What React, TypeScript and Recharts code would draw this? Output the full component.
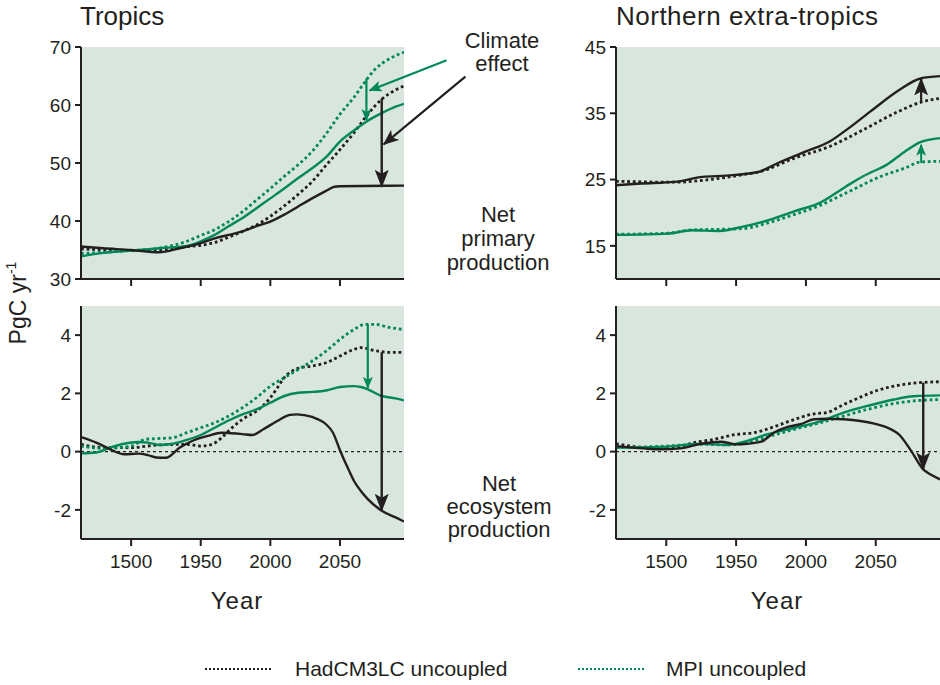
import React from 'react';
import { LineChart, Line, XAxis, YAxis, CartesianGrid, ReferenceLine } from 'recharts';

const INK = '#231f20';
const GREEN = '#00885a';
const PANEL_BG = '#d9e6dd';
const FONT = "'Liberation Sans', Arial, Helvetica, sans-serif";

// ---------- axes ----------
const yearDomain: [number, number] = [1864, 2096];
const xTickYears = [1900, 1950, 2000, 2050];
const xTickLabels = ['1500', '1950', '2000', '2050'];
const tropNppDomain: [number, number] = [30, 70];
const tropNppTicks = [30, 40, 50, 60, 70];
const nextNppDomain: [number, number] = [10, 45];
const nextNppTicks = [15, 25, 35, 45];
const nepDomain: [number, number] = [-3, 5];
const nepTicks = [-2, 0, 2, 4];

// ---------- Tropics, net primary production ----------
const tNppHadCYears = [1864, 1880, 1900, 1920, 1935, 1950, 1960, 1970, 1980, 1990, 2000, 2010, 2020, 2030, 2040, 2046, 2050, 2096];
const tNppHadC = [35.6, 35.3, 35.0, 34.6, 35.3, 36.2, 37.0, 37.6, 38.2, 39.1, 39.9, 41.1, 42.5, 43.9, 45.2, 45.9, 46.0, 46.1];
const tNppHadUYears = [1864, 1900, 1920, 1940, 1950, 1960, 1970, 1980, 1990, 2000, 2010, 2020, 2030, 2040, 2050, 2060, 2070, 2080, 2090, 2096];
const tNppHadU = [35.2, 34.9, 35.0, 35.6, 35.8, 36.3, 37.2, 38.2, 39.3, 40.8, 42.6, 44.6, 46.8, 49.6, 52.3, 55.2, 58.4, 61.0, 62.6, 63.3];
const tNppMpiCYears = [1864, 1880, 1900, 1920, 1940, 1950, 1960, 1970, 1980, 1990, 2000, 2010, 2020, 2030, 2040, 2050, 2060, 2070, 2080, 2090, 2096];
const tNppMpiC = [33.9, 34.5, 34.9, 35.3, 35.7, 36.5, 37.6, 39.1, 40.5, 42.2, 43.9, 45.6, 47.4, 49.1, 51.0, 53.7, 55.6, 57.3, 58.6, 59.7, 60.2];
const tNppMpiUYears = [1864, 1900, 1920, 1940, 1950, 1960, 1970, 1980, 1990, 2000, 2010, 2020, 2030, 2040, 2050, 2060, 2068, 2075, 2085, 2096];
const tNppMpiU = [34.4, 34.9, 35.3, 36.5, 37.5, 38.5, 39.9, 41.6, 43.6, 45.6, 47.7, 49.7, 52.0, 55.0, 58.4, 61.3, 64.0, 66.1, 67.9, 69.1];

// ---------- Tropics, net ecosystem production ----------
const tNepHadCYears = [1864, 1875, 1885, 1895, 1905, 1912, 1918, 1925, 1935, 1945, 1955, 1965, 1972, 1980, 1987, 1995, 2005, 2014, 2019, 2030, 2040, 2045, 2050, 2056, 2060, 2065, 2070, 2080, 2090, 2096];
const tNepHadC = [0.5, 0.31, 0.08, -0.09, -0.07, -0.12, -0.2, -0.21, 0.14, 0.39, 0.54, 0.65, 0.63, 0.6, 0.57, 0.77, 1.05, 1.26, 1.28, 1.19, 0.94, 0.65, 0.05, -0.6, -1.0, -1.35, -1.63, -2.03, -2.26, -2.4];
const tNepHadUYears = [1864, 1880, 1900, 1920, 1940, 1950, 1958, 1965, 1970, 1980, 1990, 2000, 2005, 2010, 2020, 2030, 2040, 2050, 2060, 2065, 2075, 2085, 2096];
const tNepHadU = [0.25, 0.14, 0.14, 0.23, 0.25, 0.19, 0.25, 0.48, 0.71, 1.11, 1.39, 1.85, 2.19, 2.54, 2.86, 2.94, 3.05, 3.28, 3.51, 3.57, 3.47, 3.41, 3.41];
const tNepMpiCYears = [1864, 1875, 1885, 1895, 1905, 1912, 1920, 1930, 1940, 1950, 1960, 1970, 1980, 1990, 2000, 2010, 2020, 2030, 2040, 2050, 2060, 2065, 2070, 2080, 2090, 2096];
const tNepMpiC = [-0.06, -0.03, 0.14, 0.27, 0.33, 0.31, 0.23, 0.27, 0.4, 0.57, 0.82, 1.07, 1.28, 1.45, 1.68, 1.91, 2.02, 2.05, 2.1, 2.22, 2.25, 2.22, 2.14, 1.91, 1.83, 1.76];
const tNepMpiUYears = [1864, 1880, 1900, 1910, 1920, 1930, 1940, 1950, 1960, 1970, 1980, 1990, 2000, 2010, 2020, 2030, 2040, 2050, 2060, 2068, 2075, 2085, 2096];
const tNepMpiU = [0.19, 0.11, 0.19, 0.42, 0.45, 0.48, 0.65, 0.82, 0.99, 1.22, 1.51, 1.85, 2.25, 2.54, 2.82, 3.11, 3.45, 3.85, 4.19, 4.37, 4.37, 4.27, 4.19];

// ---------- Northern extra-tropics, net primary production ----------
const nNppHadCYears = [1864, 1882, 1906, 1926, 1943, 1965, 1980, 2000, 2017, 2029, 2046, 2066, 2082, 2096];
const nNppHadC = [24.15, 24.4, 24.65, 25.4, 25.6, 26.1, 27.5, 29.25, 30.75, 32.5, 35.25, 38.4, 40.25, 40.6];
const nNppHadUYears = [1864, 1906, 1931, 1955, 1968, 1992, 2017, 2041, 2066, 2082, 2096];
const nNppHadU = [24.75, 24.6, 25.0, 25.75, 26.25, 28.25, 30.0, 32.5, 35.25, 36.65, 37.25];
const nNppMpiCYears = [1864, 1901, 1918, 1938, 1955, 1975, 1992, 2009, 2029, 2041, 2059, 2071, 2082, 2096];
const nNppMpiC = [16.65, 16.85, 17.35, 17.25, 17.9, 19.0, 20.25, 21.4, 24.0, 25.5, 27.4, 29.25, 30.65, 31.25];
const nNppMpiUYears = [1864, 1901, 1918, 1938, 1955, 1975, 1992, 2009, 2029, 2054, 2071, 2082, 2096];
const nNppMpiU = [16.75, 16.9, 17.4, 17.5, 17.6, 18.6, 19.75, 21.0, 23.0, 25.5, 26.75, 27.65, 27.75];

// ---------- Northern extra-tropics, net ecosystem production ----------
const nNepHadCYears = [1864, 1884, 1896, 1910, 1925, 1939, 1950, 1958, 1968, 1977, 1987, 1996, 2006, 2015, 2027, 2039, 2049, 2057, 2067, 2075, 2084, 2089, 2096];
const nNepHadC = [0.19, 0.11, 0.08, 0.11, 0.27, 0.34, 0.25, 0.27, 0.34, 0.65, 0.85, 0.94, 1.11, 1.13, 1.11, 1.05, 0.96, 0.85, 0.57, 0.05, -0.61, -0.78, -0.95];
const nNepHadUYears = [1864, 1884, 1903, 1920, 1934, 1950, 1963, 1977, 1992, 2006, 2015, 2025, 2039, 2051, 2063, 2077, 2096];
const nNepHadU = [0.27, 0.14, 0.11, 0.31, 0.42, 0.59, 0.65, 0.85, 1.11, 1.3, 1.34, 1.57, 1.87, 2.1, 2.25, 2.35, 2.4];
const nNepMpiYears = [1864, 1896, 1925, 1944, 1958, 1972, 1992, 2011, 2027, 2044, 2063, 2077, 2096];
const nNepMpiC = [0.14, 0.16, 0.27, 0.23, 0.37, 0.59, 0.82, 1.05, 1.34, 1.57, 1.79, 1.9, 1.93];
const nNepMpiU = [0.14, 0.18, 0.25, 0.23, 0.31, 0.5, 0.77, 1.0, 1.22, 1.45, 1.65, 1.74, 1.79];

// ---------- climate-effect arrows (data coordinates) ----------
const tNppArrows = [
  { x1: 2069, y1: 64.5, x2: 2069, y2: 57.4, color: GREEN, w: 2.2, head: 'headGreen' },
  { x1: 2080, y1: 61.1, x2: 2080, y2: 45.9, color: INK, w: 2.4, head: 'headBlack' },
  { x1: 2126.6, y1: 67.7, x2: 2071.3, y2: 62.5, color: GREEN, w: 2.2, head: 'headGreenP' },
  { x1: 2140.1, y1: 64.9, x2: 2081.4, y2: 53.2, color: INK, w: 2.2, head: 'headBlackP' },
];
const tNepArrows = [
  { x1: 2070, y1: 4.37, x2: 2070, y2: 2.19, color: GREEN, w: 2.2, head: 'headGreen' },
  { x1: 2080, y1: 3.41, x2: 2080, y2: -2.03, color: INK, w: 2.4, head: 'headBlack' },
];
const nNppArrows = [
  { x1: 2082.5, y1: 36.75, x2: 2082.5, y2: 40.25, color: INK, w: 2.2, head: 'headBlack' },
  { x1: 2082.5, y1: 27.5, x2: 2082.5, y2: 30.25, color: GREEN, w: 2.0, head: 'headGreen' },
];
const nNepArrows = [
  { x1: 2084, y1: 2.37, x2: 2084, y2: -0.61, color: INK, w: 2.4, head: 'headBlack' },
];

type Series = { years: number[]; vals: number[]; color: string; dotted: boolean };
type Arrow = { x1: number; y1: number; x2: number; y2: number; color: string; w: number; head: string };

const zip = (xs: number[], ys: number[]) => xs.map((x, i) => ({ year: x, value: ys[i] }));

const tickStyle = { fontSize: 19, fill: INK, fontFamily: FONT };

function Panel(props: {
  left: number; top: number; width: number; height: number;
  marginTop: number; marginRight: number; yAxisWidth: number; xAxisHeight: number;
  yDomain: [number, number]; yTicks: number[]; showXLabels: boolean;
  series: Series[]; arrows: Arrow[]; zeroLine?: boolean;
}) {
  const p = props;
  return (
    <div style={{ position: 'absolute', left: p.left, top: p.top }}>
      <LineChart width={p.width} height={p.height} margin={{ top: p.marginTop, right: p.marginRight, bottom: 0, left: 0 }}>
        <CartesianGrid horizontal={false} vertical={false} fill={PANEL_BG} stroke="none" />
        <XAxis
          type="number" dataKey="year" domain={yearDomain} ticks={xTickYears} allowDataOverflow interval={0}
          height={p.xAxisHeight}
          axisLine={{ stroke: INK, strokeWidth: 2 }} tickLine={{ stroke: INK, strokeWidth: 2 }}
          tickSize={7} tickMargin={9} tick={tickStyle}
          tickFormatter={(v: number) => (p.showXLabels ? xTickLabels[xTickYears.indexOf(v)] ?? '' : '')}
        />
        <YAxis
          type="number" domain={p.yDomain} ticks={p.yTicks} allowDataOverflow interval={0}
          width={p.yAxisWidth}
          axisLine={{ stroke: INK, strokeWidth: 2 }} tickLine={{ stroke: INK, strokeWidth: 2 }}
          tickSize={6} tickMargin={4} tick={tickStyle}
        />
        {p.zeroLine && <ReferenceLine y={0} stroke={INK} strokeWidth={1.2} strokeDasharray="3 3" />}
        {p.series.map((s, i) => (
          <Line
            key={i} data={zip(s.years, s.vals)} dataKey="value" type="monotone"
            stroke={s.color} strokeWidth={s.dotted ? 2.8 : 2.4}
            strokeDasharray={s.dotted ? '2.8 2.8' : undefined}
            dot={false} activeDot={false} isAnimationActive={false} legendType="none"
          />
        ))}
        {p.arrows.map((a, i) => (
          <ReferenceLine
            key={'arrow' + i}
            segment={[{ x: a.x1, y: a.y1 }, { x: a.x2, y: a.y2 }]}
            stroke={a.color} strokeWidth={a.w} markerEnd={`url(#${a.head})`} ifOverflow="visible"
          />
        ))}
      </LineChart>
    </div>
  );
}

export default function App() {
  const tNpp: Series[] = [
    { years: tNppHadUYears, vals: tNppHadU, color: INK, dotted: true },
    { years: tNppMpiUYears, vals: tNppMpiU, color: GREEN, dotted: true },
    { years: tNppMpiCYears, vals: tNppMpiC, color: GREEN, dotted: false },
    { years: tNppHadCYears, vals: tNppHadC, color: INK, dotted: false },
  ];
  const tNep: Series[] = [
    { years: tNepHadUYears, vals: tNepHadU, color: INK, dotted: true },
    { years: tNepMpiUYears, vals: tNepMpiU, color: GREEN, dotted: true },
    { years: tNepMpiCYears, vals: tNepMpiC, color: GREEN, dotted: false },
    { years: tNepHadCYears, vals: tNepHadC, color: INK, dotted: false },
  ];
  const nNpp: Series[] = [
    { years: nNppHadUYears, vals: nNppHadU, color: INK, dotted: true },
    { years: nNppMpiUYears, vals: nNppMpiU, color: GREEN, dotted: true },
    { years: nNppMpiCYears, vals: nNppMpiC, color: GREEN, dotted: false },
    { years: nNppHadCYears, vals: nNppHadC, color: INK, dotted: false },
  ];
  const nNep: Series[] = [
    { years: nNepHadUYears, vals: nNepHadU, color: INK, dotted: true },
    { years: nNepMpiYears, vals: nNepMpiU, color: GREEN, dotted: true },
    { years: nNepMpiYears, vals: nNepMpiC, color: GREEN, dotted: false },
    { years: nNepHadCYears, vals: nNepHadC, color: INK, dotted: false },
  ];

  const textStyle: React.CSSProperties = { fontFamily: FONT, fill: INK };

  return (
    <div style={{ position: 'absolute', left: 0, top: 0, width: 940, height: 685, background: '#ffffff', overflow: 'hidden' }}>
      <svg width={0} height={0} style={{ position: 'absolute' }}>
        <defs>
          <marker id="headBlack" markerUnits="userSpaceOnUse" viewBox="0 0 18 14" markerWidth={18} markerHeight={14} refX={17} refY={7} orient="auto">
            <path d="M0,0 L18,7 L0,14 L4,7 Z" fill={INK} />
          </marker>
          <marker id="headGreen" markerUnits="userSpaceOnUse" viewBox="0 0 12 10" markerWidth={12} markerHeight={10} refX={11} refY={5} orient="auto">
            <path d="M0,0 L12,5 L0,10 L3,5 Z" fill={GREEN} />
          </marker>
          <marker id="headBlackP" markerUnits="userSpaceOnUse" viewBox="0 0 16 13" markerWidth={16} markerHeight={13} refX={15} refY={6.5} orient="auto">
            <path d="M0,0 L16,6.5 L0,13 L4,6.5 Z" fill={INK} />
          </marker>
          <marker id="headGreenP" markerUnits="userSpaceOnUse" viewBox="0 0 13 11" markerWidth={13} markerHeight={11} refX={12} refY={5.5} orient="auto">
            <path d="M0,0 L13,5.5 L0,11 L3,5.5 Z" fill={GREEN} />
          </marker>
        </defs>
      </svg>

      <Panel left={0} top={0} width={480} height={300} marginTop={47} marginRight={76} yAxisWidth={81} xAxisHeight={21}
        yDomain={tropNppDomain} yTicks={tropNppTicks} showXLabels={false} series={tNpp} arrows={tNppArrows} />
      <Panel left={0} top={258} width={480} height={324} marginTop={48} marginRight={76} yAxisWidth={81} xAxisHeight={43}
        yDomain={nepDomain} yTicks={nepTicks} showXLabels={true} series={tNep} arrows={tNepArrows} zeroLine />
      <Panel left={540} top={0} width={400} height={300} marginTop={47} marginRight={0} yAxisWidth={76} xAxisHeight={21}
        yDomain={nextNppDomain} yTicks={nextNppTicks} showXLabels={false} series={nNpp} arrows={nNppArrows} />
      <Panel left={540} top={258} width={400} height={324} marginTop={48} marginRight={0} yAxisWidth={76} xAxisHeight={43}
        yDomain={nepDomain} yTicks={nepTicks} showXLabels={true} series={nNep} arrows={nNepArrows} zeroLine />

      <svg width={940} height={685} style={{ position: 'absolute', left: 0, top: 0, pointerEvents: 'none' }}>
        <text x={80} y={25} fontSize={26} style={textStyle}>Tropics</text>
        <text x={616} y={25} fontSize={26} letterSpacing={0.5} style={textStyle}>Northern extra-tropics</text>

        <text x={502} y={48} fontSize={22} textAnchor="middle" style={textStyle}>Climate</text>
        <text x={502} y={71} fontSize={22} textAnchor="middle" style={textStyle}>effect</text>

        <text x={498} y={222} fontSize={22} textAnchor="middle" style={textStyle}>Net</text>
        <text x={498} y={246} fontSize={22} textAnchor="middle" style={textStyle}>primary</text>
        <text x={498} y={270} fontSize={22} textAnchor="middle" style={textStyle}>production</text>

        <text x={499} y={491} fontSize={22} textAnchor="middle" style={textStyle}>Net</text>
        <text x={499} y={514} fontSize={22} textAnchor="middle" style={textStyle}>ecosystem</text>
        <text x={499} y={537} fontSize={22} textAnchor="middle" style={textStyle}>production</text>

        <text x={237} y={609} fontSize={24} letterSpacing={1} textAnchor="middle" style={textStyle}>Year</text>
        <text x={777} y={609} fontSize={24} letterSpacing={1} textAnchor="middle" style={textStyle}>Year</text>

        <text transform="translate(26,303) rotate(-90)" fontSize={23} textAnchor="middle" style={textStyle}>
          PgC yr<tspan fontSize={14} dy={-10}>-1</tspan>
        </text>

        <line x1={205} y1={669} x2={272} y2={669} stroke={INK} strokeWidth={2} strokeDasharray="2 2" />
        <text x={295} y={676} fontSize={21} style={textStyle}>HadCM3LC uncoupled</text>
        <line x1={578} y1={669} x2={645} y2={669} stroke={GREEN} strokeWidth={2} strokeDasharray="2 2" />
        <text x={666} y={676} fontSize={21} style={textStyle}>MPI uncoupled</text>
      </svg>
    </div>
  );
}
